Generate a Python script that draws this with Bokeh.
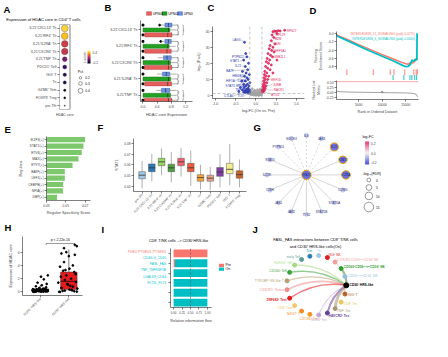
import math
from bokeh.plotting import figure
from bokeh.layouts import row, column
from bokeh.models import (Range1d, FactorRange, ColorBar, LinearColorMapper, FixedTicker,
                          ColumnDataSource, Span, PrintfTickFormatter)
from bokeh.core.properties import value
from bokeh.palettes import Inferno256
from bokeh.embed import file_html
from bokeh.resources import INLINE

FONT = "Liberation Sans"

# ======================= DATA =======================
# A: dot plot
a_cells = ["IL21⁺CXCL13⁺ Th", "IL21⁺IRF4⁺ Th", "IL21⁺IL2RA⁺ Th", "IL21⁺CXCR6⁺ Th",
           "IL21⁺TNF⁺ Th", "PDCD1⁺ Teff", "ISG⁺ T", "Tn", "GZMK⁺ Tem", "FOXP3⁺ Treg", "pre-Tfh"]
a_zscore = [0.42, 0.39, 0.16, 0.14, 0.0, -0.11, -0.14, -0.16, -0.23, -0.235, -0.25]
a_pct = [0.58, 0.57, 0.56, 0.55, 0.40, 0.34, 0.30, 0.28, 0.20, 0.18, 0.10]
a_pct_legend = [0.2, 0.3, 0.4]
a_z_ticks = [-0.2, 0.0, 0.2, 0.4]
a_title = "Expression of HDAC core in CD4⁺ T cells"

# B: box plots per patient
b_groups = ["IL21⁺CXCL13⁺ Th", "IL21⁺IRF4⁺ Th", "IL21⁺CXCR6⁺ Th", "IL21⁺IL2RA⁺ Th", "IL21⁺TNF⁺ Th"]
b_patients = ["UPN01", "UPN02", "UPN03"]
b_q1 = {"UPN01": [0.05, 0.05, 0.04, 0.05, 0.04], "UPN02": [0.0, 0.0, 0.0, 0.0, 0.0],
        "UPN03": [0.62, 0.62, 0.58, 0.55, 0.52]}
b_med = {"UPN01": [0.70, 0.68, 0.72, 0.70, 0.72], "UPN02": [0.72, 0.70, 0.72, 0.72, 0.70],
         "UPN03": [0.72, 0.72, 0.68, 0.66, 0.64]}
b_q3 = {"UPN01": [0.82, 0.80, 0.82, 0.81, 0.82], "UPN02": [0.76, 0.74, 0.78, 0.78, 0.78],
        "UPN03": [0.82, 0.80, 0.80, 0.76, 0.76]}
b_lo = {"UPN01": [0.05, 0.05, 0.04, 0.05, 0.04], "UPN02": [0.0, 0.0, 0.0, 0.0, 0.0],
        "UPN03": [0.50, 0.52, 0.42, 0.40, 0.38]}
b_hi = {"UPN01": [1.02, 0.98, 1.0, 1.0, 1.0], "UPN02": [0.95, 0.92, 0.96, 0.98, 0.95],
        "UPN03": [1.0, 0.98, 1.0, 0.95, 0.95]}
b_out_upn01 = [0.0, 0.0, 0.0, 0.0, 0.0]
b_out_upn03 = [0.0, 0.0, 0.0, 0.0, 0.0]
b_out_extra_group = [0, 1]
b_out_extra_val = [0.47, 0.50]
b_sig = ["***", "***", "***"]
b_xticks = [0.0, 0.4, 0.8, 1.2]

# C: volcano
c_gray_x = [-0.12, -0.08, -0.05, -0.02, 0.0, 0.03, 0.06, 0.09, 0.12, -0.10, -0.06, 0.01, 0.05, 0.10,
            0.13, -0.13, -0.03, 0.04, 0.11, -0.09, 0.07, -0.14, 0.14, -0.01, 0.08, -0.11, 0.02, -0.07,
            0.12, -0.04]
c_gray_y = [0.5, 1.0, 0.3, 0.8, 0.2, 0.6, 1.2, 0.4, 0.9, 2.0, 2.5, 1.8, 2.2, 1.6, 2.8, 3.0, 3.2, 3.6,
            4.0, 4.2, 0.1, 1.2, 0.3, 2.6, 3.0, 1.5, 0.4, 0.6, 2.0, 1.4]
c_dn_x = [-0.28, -0.25, -0.22, -0.30, -0.18, -0.26, -0.20, -0.33, -0.24, -0.16, -0.28, -0.22, -0.19,
          -0.35, -0.26, -0.15, -0.30, -0.21, -0.17, -0.25, -0.38, -0.29, -0.19, -0.23, -0.16, -0.33,
          -0.27, -0.20, -0.17, -0.24, -0.30, -0.42, -0.21, -0.16, -0.27, -0.19]
c_dn_y = [33, 26, 24, 22, 20, 18, 16, 15, 14, 13, 12, 11, 10, 9, 9, 8, 7, 7, 6, 6, 5, 5, 4.5, 4, 3.5,
          3.5, 3, 3, 2.5, 2.5, 2.2, 2.5, 2, 1.8, 1.8, 1.5]
c_up_x = [0.71, 0.60, 0.55, 0.50, 0.46, 0.42, 0.52, 0.40, 0.44, 0.38, 0.47, 0.35, 0.42, 0.33, 0.39,
          0.45, 0.30, 0.36, 0.41, 0.28, 0.34, 0.52, 0.26, 0.31, 0.38, 0.24, 0.29, 0.35, 0.22, 0.27,
          0.42, 0.21, 0.25, 0.32, 0.20, 0.23, 0.29, 0.19, 0.22, 0.27, 0.18, 0.21, 0.25, 0.17, 0.20,
          0.23, 0.18, 0.16, 0.21, 0.17, 0.19, 0.16]
c_up_y = [40.5, 40, 40.2, 39.8, 40, 39.5, 38.5, 37.5, 36, 34, 32, 31, 30, 29, 28, 27, 26, 25, 24, 23,
          22, 22, 21, 20, 19, 18, 17, 16, 15, 14, 14, 13, 12, 12, 11, 10, 10, 9, 8, 8, 7, 6.5, 6, 5.5,
          5, 4.5, 4, 3.5, 3.5, 3, 2.5, 2.2]
c_dn_genes = ["LAG3", "PTPN22", "STAT1", "IL21", "BATF", "HMGB2", "HIF1A", "IL2RA", "STAT3", "NR4A2",
              "TNFRSF4", "CTLA4", "TOX"]
c_dn_gx = [-0.28, -0.22, -0.30, -0.26, -0.18, -0.24, -0.28, -0.19, -0.26, -0.17, -0.23, -0.20, -0.16]
c_dn_gy = [33, 24, 22, 18, 16, 14, 12, 10, 9, 6, 4, 3, 1.8]
c_up_genes = ["RPS27", "RPL29", "B2M", "JUN", "EEF1A1", "GNB2L1", "EEF1D", "JUNB", "RACK1", "BTG1"]
c_up_gx = [0.71, 0.46, 0.44, 0.40, 0.42, 0.36, 0.29, 0.25, 0.21, 0.17]
c_up_gy = [40.5, 40, 36, 34, 30, 25, 10, 6, 3.5, 3]

# D: GSEA
d_rank_21 = [0, 500, 2500, 5000, 7500, 10000, 12500, 14000, 15000, 15500, 16000, 16500, 17000, 17300, 17500]
d_es_21 = [0.0, -0.05, -0.14, -0.27, -0.39, -0.51, -0.62, -0.69, -0.73, -0.74, -0.70, -0.71, -0.66, -0.60, -0.62]
d_rank_6 = [0, 500, 2500, 5000, 7500, 10000, 12500, 14000, 15000, 15500, 16000, 16300, 16700, 17000, 17350, 17400]
d_es_6 = [0.0, -0.07, -0.17, -0.30, -0.43, -0.55, -0.67, -0.75, -0.80, -0.79, -0.74, -0.64, -0.67, -0.62, -0.64, 0.0]
d_hits_21 = [2500, 8100, 11700, 12500, 14800, 16700, 17200, 17450]
d_hits_6 = [12300, 14600, 15900, 16300, 16900, 17300]
d_metric_rank = [0, 1000, 3000, 6000, 9000, 12000, 15000, 16500, 17200, 17500]
d_metric = [0.08, 0.04, 0.02, 0.01, 0.0, -0.01, -0.02, -0.04, -0.08, -0.2]
d_sets = ["INTERLEUKIN_21_SIGNALING", "INTERLEUKIN_6_SIGNALING"]
d_padj = ["0.0275", "0.0000"]

# E: regulon specificity
e_regulons = ["IKZF3(+)", "STAT1(+)", "ETV6(+)", "MAX(+)", "ETV7(+)", "BATF(+)", "LEF1(+)",
              "CEBPB(+)", "NFIA(+)", "DBP(+)"]
e_rss = [0.0700, 0.0683, 0.0665, 0.0632, 0.0570, 0.0490, 0.0490, 0.0472, 0.0470, 0.0410]

# F: STAT1 box plots
f_cells = ["pre-Tfh", "IL21⁺CXCL13⁺ Th", "IL21⁺IRF4⁺ Th", "IL21⁺CXCR6⁺ Th", "IL21⁺IL2RA⁺ Th",
           "IL21⁺TNF⁺ Th", "Tn", "GZMK⁺ Tem", "PDCD1⁺ Teff", "ISG⁺ T", "FOXP3⁺ Treg"]
f_q1 = [0.0469, 0.0536, 0.0592, 0.0536, 0.0592, 0.0536, 0.0447, 0.0447, 0.0492, 0.0517, 0.0475]
f_med = [0.0503, 0.0572, 0.0628, 0.0572, 0.0628, 0.0572, 0.0480, 0.0475, 0.0533, 0.0558, 0.0508]
f_q3 = [0.0536, 0.0608, 0.0661, 0.0606, 0.0661, 0.0614, 0.0508, 0.0503, 0.0575, 0.0614, 0.0544]
f_lo = [0.0378, 0.0447, 0.0503, 0.0436, 0.0490, 0.0403, 0.0369, 0.0364, 0.0390, 0.0408, 0.0390]
f_hi = [0.0636, 0.0703, 0.0753, 0.0720, 0.0758, 0.0736, 0.0600, 0.0580, 0.0700, 0.0794, 0.0650]

# G: network
g_hub = "STAT1"
g_hub_lfc = -0.2
g_hub_fdr = 14
g_nodes = ["IL6", "JAK3", "IL21", "STAT3", "IL2RA", "IL2RG", "STAT5A", "STAT5B", "TYK2", "JAK2",
           "JAK1", "CISH", "IL21R", "STAT4", "PTPN11", "SOCS3"]
g_lfc = [-0.04, -0.05, -0.19, -0.2, -0.2, -0.06, -0.03, -0.02, -0.03, -0.05, -0.04, -0.05, -0.05,
         -0.05, -0.04, -0.06]
g_fdr = [1.0, 1.5, 11, 10, 12, 2, 1.0, 0.8, 0.8, 1.2, 1.0, 1.5, 1.5, 1.5, 1.0, 1.5]
g_dashed = [1, 1, 1, 0, 0, 0, 0, 0, 0, 0, 0, 0, 0, 0, 1, 1]
g_lfc_ticks = [-0.2, -0.1, 0.0, 0.1, 0.2]
g_fdr_legend = [0, 5, 10, 15]

# H: HDAC core in HRS-like cells
h_groups = ["CD30⁻ HRS-like", "CD30⁺ HRS-like"]
h_q1 = [0.0, 0.35]
h_med = [0.12, 1.6]
h_q3 = [0.45, 3.0]
h_lo = [0.0, 0.0]
h_hi = [1.1, 6.4]
h_neg_dx = [-0.25, 0.10, -0.15, 0.22, -0.05, 0.18, -0.20, 0.05, 0.25, -0.10, 0.12, -0.22, 0.0, 0.20,
            -0.12, 0.08, -0.26, 0.15, 0.03, -0.18, 0.24, -0.08, 0.14, -0.24, 0.06, -0.14, 0.10, -0.04,
            0.20, -0.16, 0.05, 0.22, -0.10, 0.12, 0.02, -0.20, 0.17, -0.02, 0.26, -0.28]
h_neg_y = [0.02, 0.05, 0.08, 0.10, 0.12, 0.15, 0.18, 0.20, 0.22, 0.25, 0.28, 0.30, 0.33, 0.35, 0.38,
           0.40, 0.42, 0.45, 0.03, 0.07, 0.11, 0.16, 0.21, 0.26, 0.31, 0.36, 0.50, 0.60, 0.70, 0.85,
           1.0, 1.2, 1.4, 1.9, 2.3, 0.04, 0.09, 0.14, 2.5, 0.24]
h_pos_dx = [0.21, 0.28, -0.17, -0.09, 0.21, -0.26, 0.0, -0.17, 0.14, -0.31, 0.02, -0.20, 0.19, -0.09,
            -0.28, 0.08, -0.14, 0.25, -0.37, -0.03, 0.14, -0.26, 0.02, -0.14, 0.19, -0.31, 0.28, 0.09,
            -0.22, 0.30, 0.05, -0.05, 0.24, -0.12, 0.12, -0.34]
h_pos_y = [7.1, 6.9, 6.6, 6.0, 5.6, 5.8, 5.4, 4.5, 4.0, 3.8, 3.5, 3.2, 3.0, 2.5, 2.3, 2.0, 1.8, 1.5,
           1.4, 1.1, 0.8, 0.6, 0.35, 0.2, 0.1, 0.0, 0.05, 0.3, 0.15, 0.5, 0.9, 1.2, 2.7, 3.3, 0.25, 0.02]
h_p_label = "p < 2.22e-16"

# I: relative information flow
i_pairs = ["PGE2-PTGES3_PTGER4", "CD40LG_CD40", "FASL_FAS", "TNF_TNFRSF1B", "LGALS9_CD44", "FLT3L_FLT3"]
i_pre = [1.0, 0.04, 0.0, 0.0, 0.0, 0.0]
i_on = [0.0, 0.96, 1.0, 1.0, 1.0, 1.0]
i_enriched = ["Pre", "On", "On", "On", "On", "On"]
i_groups = ["Pre", "On"]
i_xticks = [0.0, 0.25, 0.5, 0.75, 1.0]
i_title = "CD8⁺ T/NK cells --> CD30⁺HRS-like"

# J: circle plot FASL_FAS
j_nodes = ["CD30⁺ HRS-like", "CD56ᵇʳⁱᵍʰᵗCD16⁻ NK", "CD160⁺CD56ᵇʳⁱᵍʰᵗCD16⁺ NK", "CX3CR1⁺CD56ᵈⁱᵐCD16⁺ NK",
           "ISG⁺ NK", "Tn", "Tcm", "early Teff", "KLRG1⁺ Teff", "CD160⁺ Teff", "TYROBP⁺ NK-like T",
           "CX3CR1⁺ Temra", "ZNF683⁺ Tem", "CD8⁺ Tem", "NKG7⁺ T", "CXCR6⁺ Trm", "SOX4⁺ Tex",
           "HAVCR2⁺ Tex", "TNF⁺ Tex", "CD8⁺ Tm", "ISG⁺ T"]
j_colors = ["#000000", "#8FBFDD", "#2E9E2E", "#F49A9A", "#E31A1C", "#9CC8E2", "#2C7FB8", "#5E9C97",
            "#A6D87E", "#3AA23A", "#B99B72", "#F08C8C", "#E31A1C", "#F9C56E", "#F58B26", "#F7941D",
            "#C2A5D4", "#6A3D9A", "#A89476", "#E7C75A", "#B4612A"]
j_bold = [1, 0, 1, 0, 0, 0, 0, 0, 0, 0, 0, 0, 1, 0, 0, 0, 0, 1, 0, 0, 0]
j_edge_src = [1, 2, 3, 8, 9, 10, 11, 12, 16, 17, 18, 20]
j_edge_w = [0.8, 2.2, 1.0, 1.5, 1.5, 1.2, 1.8, 1.6, 1.2, 2.0, 3.0, 0.8]
j_title = ["FASL_FAS interactions between CD8⁺ T/NK cells", "and CD30⁺ HRS-like cells(On)"]

# ======================= HELPERS =======================
def mkfig(w, h, xr, yr, bl, br, bt, bb, xaxis=True, yaxis=True):
    p = figure(width=w, height=h, x_range=xr, y_range=yr, output_backend="svg",
               toolbar_location=None,
               x_axis_location="below" if xaxis else None,
               y_axis_location="left" if yaxis else None,
               min_border_left=bl, min_border_right=br, min_border_top=bt, min_border_bottom=bb)
    p.outline_line_color = None
    p.grid.visible = False
    p.background_fill_color = "white"
    p.border_fill_color = "white"
    return p


def hdr(w, h):
    # full-frame strip, y measured downward from its top edge
    return mkfig(w, h, Range1d(0, w), Range1d(h, 0), 0, 0, 0, 0, xaxis=False, yaxis=False)


def txt(p, x, y, text, size="4px", color="black", align="left", baseline="middle", bold=False,
        angle=0.0):
    p.text(x=[x], y=[y], text=[text], text_font=value(FONT), text_font_size=size,
           text_color=color, text_align=align, text_baseline=baseline,
           text_font_style="bold" if bold else "normal", angle=angle)


def letter(p, x, y, t):
    txt(p, x, y, t, size="9.5px", bold=True)


def style_axes(p, size="3.5px", lsize="4px"):
    for ax in list(p.xaxis) + list(p.yaxis):
        ax.major_label_text_font = FONT
        ax.major_label_text_font_size = size
        ax.axis_label_text_font = FONT
        ax.axis_label_text_font_size = lsize
        ax.axis_label_text_font_style = "normal"
        ax.axis_line_width = 0.5
        ax.major_tick_line_width = 0.5
        ax.major_tick_out = 2
        ax.major_tick_in = 0
        ax.minor_tick_line_color = None
        ax.major_label_standoff = 1
        ax.axis_label_standoff = 2


def interp_palette(stops, n):
    out = []
    segs = len(stops) - 1
    for i in range(n):
        t = i / (n - 1) * segs
        k = min(int(t), segs - 1)
        f = t - k
        c0 = [int(stops[k][j:j + 2], 16) for j in (1, 3, 5)]
        c1 = [int(stops[k + 1][j:j + 2], 16) for j in (1, 3, 5)]
        c = [round(c0[j] + (c1[j] - c0[j]) * f) for j in range(3)]
        out.append("#%02x%02x%02x" % tuple(c))
    return out


SALMON, TEAL = "#F8766D", "#00BFC4"

# ======================= PANEL A =======================
hA = hdr(102, 24)
letter(hA, 3, 8.5, "A")
txt(hA, 43, 19, a_title, size="4.1px", align="center")
pA = mkfig(102, 95, Range1d(0, 3.81), FactorRange(factors=a_cells[::-1]), 59, 3, 0, 7)
a_mapper = LinearColorMapper(palette=Inferno256, low=-0.25, high=0.5)
pA.quad(left=0, right=1, bottom=0, top=len(a_cells), fill_color=None, line_color="black", line_width=0.5)
srcA = ColumnDataSource(dict(cell=a_cells, z=a_zscore, s=[12.0 * v for v in a_pct]))
pA.scatter(x=0.5, y="cell", size="s", source=srcA,
           fill_color={"field": "z", "transform": a_mapper}, line_color="#3a3a3a", line_width=0.3)
style_axes(pA, size="3.5px")
pA.yaxis.axis_line_color = None
pA.xaxis.axis_line_color = None
pA.xaxis.major_tick_line_color = None
pA.xaxis.ticker = FixedTicker(ticks=[0.5])
pA.xaxis.major_label_overrides = {0.5: "HDAC core"}
cbA = ColorBar(color_mapper=a_mapper, ticker=FixedTicker(ticks=a_z_ticks),
               formatter=PrintfTickFormatter(format="%.1f"), width=3, height=13,
               location=(20, 46), padding=0, margin=0, title="z-score",
               title_text_font=FONT, title_text_font_size="3.5px", title_text_font_style="normal",
               title_standoff=2, major_label_text_font=FONT, major_label_text_font_size="3.2px",
               label_standoff=2, major_tick_line_color=None, bar_line_color=None,
               background_fill_color=None, border_line_color=None)
pA.add_layout(cbA)
a_leg_y = [4.1, 3.36, 2.42]
pA.text(x=1.75, y=4.85, text=["Pct"], text_font=value(FONT), text_font_size="3.6px",
        text_baseline="middle")
pA.scatter(x=2.0, y=a_leg_y, size=[12.0 * v for v in a_pct_legend], fill_color=None,
           line_color="black", line_width=0.4)
pA.text(x=2.45, y=a_leg_y, text=["%.1f" % v for v in a_pct_legend], text_font=value(FONT),
        text_font_size="3.2px", text_baseline="middle")

# ======================= PANEL B =======================
b_fill = {"UPN01": "#E8605E", "UPN02": "#22A022", "UPN03": "#6A90E0"}
b_edge = {"UPN01": "#9E3433", "UPN02": "#176B17", "UPN03": "#3B5EA8"}
hB = hdr(91, 20)
letter(hB, 2, 7, "B")
b_leg_x = [44, 59.5, 75]
hB.rect(x=[x + 2.5 for x in b_leg_x], y=13, width=5, height=3.6,
        fill_color=[b_fill[p] for p in b_patients], line_color=[b_edge[p] for p in b_patients],
        line_width=0.4)
hB.text(x=[x + 6.2 for x in b_leg_x], y=13, text=b_patients, text_font=value(FONT),
        text_font_size="3.3px", text_baseline="middle")
pB = mkfig(91, 99, Range1d(-0.07, 1.40), Range1d(-0.38, 4.58), 38, 1, 0, 14)
b_off = {"UPN01": -0.3, "UPN02": 0.0, "UPN03": 0.3}
ng = len(b_groups)
for pt in b_patients:
    ys = [(ng - 1 - g) + b_off[pt] for g in range(ng)]
    pB.hbar(y=ys, left=b_q1[pt], right=b_q3[pt], height=0.25, fill_color=b_fill[pt],
            line_color=b_edge[pt], line_width=0.4)
    pB.segment(x0=b_q3[pt], y0=ys, x1=b_hi[pt], y1=ys, line_color="#333333", line_width=0.4)
    pB.segment(x0=b_lo[pt], y0=ys, x1=b_q1[pt], y1=ys, line_color="#333333", line_width=0.4)
    pB.segment(x0=b_med[pt], y0=[y - 0.125 for y in ys], x1=b_med[pt], y1=[y + 0.125 for y in ys],
               line_color="#222222", line_width=0.6)
ys1 = [(ng - 1 - g) + b_off["UPN01"] for g in range(ng)]
ys3 = [(ng - 1 - g) + b_off["UPN03"] for g in range(ng)]
pB.scatter(x=b_out_upn01, y=ys1, marker="square", size=1.8, color="black")
pB.scatter(x=b_out_upn03, y=ys3, marker="square", size=1.8, color="black")
pB.scatter(x=b_out_extra_val, y=[(ng - 1 - g) + 0.3 for g in b_out_extra_group], size=1.8, color="black")
bx1, bx2 = 0.99, 1.14
sx0, sy0, sx1, sy1 = [], [], [], []
tx, ty, tt = [], [], []
for g in range(ng):
    yc = ng - 1 - g
    for (xa, ya, yb, k) in [(bx1, yc + 0.3, yc + 0.03, 0), (bx1, yc - 0.03, yc - 0.3, 1), (bx2, yc + 0.3, yc - 0.3, 2)]:
        sx0 += [xa, xa - 0.03, xa - 0.03]; sy0 += [ya, ya, yb]
        sx1 += [xa, xa, xa]; sy1 += [yb, ya, yb]
        tx.append(xa + 0.06); ty.append((ya + yb) / 2); tt.append(b_sig[k])
pB.segment(x0=sx0, y0=sy0, x1=sx1, y1=sy1, line_color="#333333", line_width=0.35)
pB.text(x=tx, y=ty, text=tt, angle=math.pi / 2, text_font=value(FONT), text_font_size="2.6px",
        text_align="center", text_baseline="middle")
style_axes(pB, size="3.5px", lsize="4px")
pB.xaxis.ticker = FixedTicker(ticks=b_xticks)
pB.xaxis.formatter = PrintfTickFormatter(format="%.1f")
pB.xaxis.axis_label = "HDAC core Expression"
pB.xaxis.axis_label_standoff = 1
pB.yaxis.ticker = FixedTicker(ticks=[float(ng - 1 - g) for g in range(ng)])
pB.yaxis.major_label_overrides = {float(ng - 1 - g): b_groups[g] for g in range(ng)}

# ======================= PANEL C =======================
hC = hdr(114, 26)
letter(hC, 14, 7, "C")
pC = mkfig(114, 93, Range1d(-1.07, 1.20), Range1d(-1.8, 42.8), 19, 3, 0, 21)
for loc in (-0.15, 0.15):
    pC.add_layout(Span(location=loc, dimension="height", line_color="#9E9E9E", line_dash="3 2", line_width=0.6))
pC.add_layout(Span(location=1.3, dimension="width", line_color="#9E9E9E", line_dash="3 2", line_width=0.6))
pC.scatter(x=c_gray_x, y=c_gray_y, size=2.0, color="#A3A3A3", alpha=0.9)
pC.scatter(x=c_dn_x, y=c_dn_y, size=2.0, color="#2B3BB5", alpha=0.85)
pC.scatter(x=c_up_x, y=c_up_y, size=2.0, color="#E0245A", alpha=0.85)
c_dn_lx = [-0.38, -0.30, -0.41, -0.36, -0.54, -0.31, -0.52, -0.24, -0.52, -0.24, -0.16, -0.55, -0.30]
c_dn_ly = [34.5, 23.8, 21.4, 18.5, 15.6, 12.1, 9.2, 9.2, 5.8, 5.8, 3.5, 0.0, 0.0]
c_up_lx = [0.76, 0.49, 0.47, 0.46, 0.46, 0.44, 0.38, 0.42, 0.44, 0.38]
c_up_ly = [40.0, 37.5, 35.5, 32.0, 27.9, 24.0, 10.1, 6.8, 3.5, 0.8]
pC.segment(x0=[x + 0.015 for x in c_dn_lx], y0=c_dn_ly, x1=c_dn_gx, y1=c_dn_gy, line_color="#555555", line_width=0.3)
pC.segment(x0=[x - 0.015 for x in c_up_lx], y0=c_up_ly, x1=c_up_gx, y1=c_up_gy, line_color="#555555", line_width=0.3)
pC.text(x=c_dn_lx, y=c_dn_ly, text=c_dn_genes, text_font=value(FONT), text_font_size="3.1px",
        text_color="#2B3BB5", text_align="right", text_baseline="middle")
pC.text(x=c_up_lx, y=c_up_ly, text=c_up_genes, text_font=value(FONT), text_font_size="3.1px",
        text_color="#E0245A", text_align="left", text_baseline="middle")
style_axes(pC, size="3.4px", lsize="3.8px")
pC.xaxis.ticker = FixedTicker(ticks=[-1.0, -0.5, 0.0, 0.5, 1.0])
pC.xaxis.formatter = PrintfTickFormatter(format="%.1f")
pC.yaxis.ticker = FixedTicker(ticks=[0, 10, 20, 30, 40])
pC.xaxis.axis_label = "log₂FC (On vs. Pre)"
pC.yaxis.axis_label = "-log₁₀(P.adj)"
pC.xaxis.axis_label_standoff = 1

# ======================= PANEL D =======================
hD = hdr(125, 31)
letter(hD, 2, 9.5, "D")
pD1 = mkfig(125, 49, Range1d(300, 17700), Range1d(-1.13, 0.043), 29, 14, 0, 0, xaxis=False)
pD1.segment(x0=d_hits_21, y0=-0.86, x1=d_hits_21, y1=-1.0, line_color=SALMON, line_width=0.9)
pD1.segment(x0=d_hits_6, y0=-1.0, x1=d_hits_6, y1=-1.13, line_color=TEAL, line_width=0.9)
pD1.line(x=d_rank_21, y=d_es_21, line_color=SALMON, line_width=1.5)
pD1.line(x=d_rank_6, y=d_es_6, line_color=TEAL, line_width=1.8)
pD1.text(x=17276, y=[0.0, -0.12], text=[d_sets[i] + "   (padj: " + d_padj[i] + ")" for i in range(2)],
         text_color=[SALMON, TEAL], text_font=value(FONT), text_font_size="3.1px",
         text_align="right", text_baseline="middle")
style_axes(pD1, size="3.3px", lsize="3.6px")
pD1.yaxis.ticker = FixedTicker(ticks=[0.0, -0.2, -0.4, -0.6, -0.8])
pD1.yaxis.formatter = PrintfTickFormatter(format="%.1f")
pD1.yaxis.bounds = (-0.86, 0.043)
pD1.yaxis.axis_label = "Running\nEnrichment Score"

pD2 = mkfig(125, 39, Range1d(300, 17700), Range1d(-0.324, 0.556), 29, 14, 0, 20)
pD2.add_layout(Span(location=0.5, dimension="width", line_color=SALMON, line_width=0.9, line_alpha=0.7))
pD2.line(x=d_metric_rank, y=d_metric, line_color="#8C8C8C", line_width=0.8)
pD2.scatter(x=[10000], y=[0.02], size=1.5, color="#8C8C8C")
style_axes(pD2, size="3.3px", lsize="3.6px")
pD2.yaxis.ticker = FixedTicker(ticks=[-0.25, 0.0, 0.25, 0.5])
pD2.yaxis.formatter = PrintfTickFormatter(format="%.2f")
pD2.yaxis.axis_label = "Ranked List\nMetric"
pD2.xaxis.ticker = FixedTicker(ticks=[5000, 10000, 15000])
pD2.xaxis.axis_label = "Rank in Ordered Dataset"
pD2.xaxis.axis_label_standoff = 1

# ======================= PANEL E =======================
hE = hdr(92, 17)
letter(hE, 4, 9.5, "E")
pE = mkfig(92, 81, Range1d(0.03, 0.0756), FactorRange(factors=e_regulons[::-1]), 46, 2, 0, 16)
pE.hbar(y=e_regulons, left=0, right=e_rss, height=0.82, fill_color="#7DC86C", line_color=None)
style_axes(pE, size="3.3px", lsize="3.8px")
pE.xaxis.ticker = FixedTicker(ticks=[0.03, 0.05, 0.07])
pE.xaxis.formatter = PrintfTickFormatter(format="%.2f")
pE.xaxis.axis_label = "Regulon Specificity Score"
pE.yaxis.axis_label = "Regulons"
pE.xaxis.axis_label_standoff = 1

# ======================= PANEL F =======================
hF = hdr(157, 19)
letter(hF, 5, 8, "F")
pF = mkfig(157, 79, Range1d(0.12, 11.72), Range1d(0.035, 0.0847), 41, 3, 0, 22)
f_fill = ["#9CC9E4", "#2A78B6", "#97D65F", "#4FA03E", "#F0636E", "#EE5A3C", "#F5A43A", "#EBA184",
          "#7D3FA3", "#F3EF8E", "#C9622B"]
fx = list(range(1, len(f_cells) + 1))
pF.segment(x0=fx, y0=f_lo, x1=fx, y1=f_hi, line_color="#7A7A7A", line_width=0.6)
pF.vbar(x=fx, bottom=f_q1, top=f_q3, width=0.68, fill_color=f_fill, line_color="#5A5A5A", line_width=0.5)
pF.segment(x0=[x - 0.34 for x in fx], y0=f_med, x1=[x + 0.34 for x in fx], y1=f_med,
           line_color="#333333", line_width=0.8)
style_axes(pF, size="3.2px", lsize="3.8px")
pF.xaxis.ticker = FixedTicker(ticks=fx)
pF.xaxis.major_label_overrides = {float(i + 1): c for i, c in enumerate(f_cells)}
pF.xaxis.major_label_orientation = math.pi / 4
pF.yaxis.ticker = FixedTicker(ticks=[0.04, 0.05, 0.06, 0.07, 0.08])
pF.yaxis.formatter = PrintfTickFormatter(format="%.2f")
pF.yaxis.axis_label = "STAT1"

# ======================= PANEL G =======================
G_W, G_H = 183, 98
pG = mkfig(G_W, G_H, Range1d(0, G_W), Range1d(G_H, 0), 0, 0, 0, 0, xaxis=False, yaxis=False)
g_pal = interp_palette(["#4450D8", "#F4F4F8", "#E63C6E"], 64)
g_mapper = LinearColorMapper(palette=g_pal, low=-0.25, high=0.25)
gcx, gcy, grad = 56.9, 55.4, 39.5
n_g = len(g_nodes)
gx = [gcx + grad * math.cos(math.radians(90 - 360.0 / n_g * k)) for k in range(n_g)]
gy = [gcy - grad * math.sin(math.radians(90 - 360.0 / n_g * k)) for k in range(n_g)]
sol = [k for k in range(n_g) if not g_dashed[k]]
das = [k for k in range(n_g) if g_dashed[k]]
pG.segment(x0=gcx, y0=gcy, x1=[gx[k] for k in sol], y1=[gy[k] for k in sol], line_color="#C4C4C4", line_width=0.7)
pG.segment(x0=gcx, y0=gcy, x1=[gx[k] for k in das], y1=[gy[k] for k in das], line_color="#C4C4C4",
           line_width=0.7, line_dash="2 2")
def gsize(f):
    return (4 + 0.4 * f) * 0.96
all_x = gx + [gcx]
all_y = gy + [gcy]
all_lfc = g_lfc + [g_hub_lfc]
all_fdr = g_fdr + [g_hub_fdr]
all_lab = g_nodes + [g_hub]
sig = [f > 5 for f in all_fdr]
srcG = ColumnDataSource(dict(x=all_x, y=all_y, lfc=all_lfc, s=[gsize(f) for f in all_fdr],
                             lc=["#F5A300" if s_ else "#8C96DA" for s_ in sig],
                             lw=[1.0 if s_ else 0.3 for s_ in sig], lab=all_lab))
pG.scatter(x="x", y="y", size="s", source=srcG, fill_color={"field": "lfc", "transform": g_mapper},
           line_color="lc", line_width="lw")
pG.text(x="x", y="y", text="lab", source=srcG, text_font=value(FONT), text_font_size="3.2px",
        text_color="#23286E", text_align="center", text_baseline="middle")
cbG = ColorBar(color_mapper=g_mapper, ticker=FixedTicker(ticks=g_lfc_ticks),
               formatter=PrintfTickFormatter(format="%.1f"), width=4, height=23,
               location=(115.6, 53), padding=0, margin=0, major_label_text_font=FONT,
               major_label_text_font_size="3.2px", label_standoff=2, major_tick_line_color=None,
               bar_line_color=None, background_fill_color=None, border_line_color=None)
pG.add_layout(cbG)
txt(pG, 113, 17.2, "log₂FC", size="3.6px")
txt(pG, 113, 54.4, "-log₁₀(FDR)", size="3.6px")
g_leg_yc = [60.5, 68, 76.4, 87.5]
pG.scatter(x=119.4, y=g_leg_yc, size=[gsize(f) for f in g_fdr_legend],
           fill_color=None, line_color="black", line_width=0.4)
pG.text(x=126.5, y=g_leg_yc, text=[str(v) for v in g_fdr_legend],
        text_font=value(FONT), text_font_size="3.2px", text_baseline="middle")
letter(pG, 4, 8, "G")

# ======================= PANEL H =======================
hH = hdr(96, 19)
letter(hH, 4, 9.5, "H")
pH = mkfig(96, 105, Range1d(0.37, 2.48), Range1d(-0.54, 8.36), 22, 14, 0, 46)
hx = [1, 2]
pH.segment(x0=hx, y0=h_q3, x1=hx, y1=h_hi, line_color="black", line_width=0.5)
pH.vbar(x=hx, bottom=h_q1, top=h_q3, width=0.58, fill_color=["#111111", "#E41A1C"],
        line_color=["#000000", "#3A3A3A"], line_width=0.5)
pH.segment(x0=[x - 0.29 for x in hx], y0=h_med, x1=[x + 0.29 for x in hx], y1=h_med,
           line_color="black", line_width=0.7)
pH.scatter(x=[1 + d for d in h_neg_dx], y=h_neg_y, size=1.8, color="black")
pH.scatter(x=[2 + d for d in h_pos_dx], y=h_pos_y, size=1.8, color="black")
pH.segment(x0=[1.2, 1.2, 2.2], y0=[7.3, 7.3, 7.3], x1=[2.2, 1.2, 2.2], y1=[7.3, 7.05, 7.05],
           line_color="black", line_width=0.4)
pH.text(x=[1.7], y=[7.85], text=[h_p_label], text_font=value(FONT), text_font_size="3.4px",
        text_align="center", text_baseline="middle")
style_axes(pH, size="3.3px", lsize="3.8px")
pH.xaxis.ticker = FixedTicker(ticks=hx)
pH.xaxis.major_label_overrides = {1.0: h_groups[0], 2.0: h_groups[1]}
pH.xaxis.major_label_orientation = math.pi / 4
pH.yaxis.ticker = FixedTicker(ticks=[0, 2, 4, 6])
pH.yaxis.axis_label = "Expression of HDAC core"

# ======================= PANEL I =======================
hI = hdr(140, 31)
letter(hI, 5, 11.5, "I")
txt(hI, 82, 23.5, i_title, size="3.8px", align="center")
I_MAIN_H, I_BB = 93, 34
iy = [float(len(i_pairs) - 1 - k) for k in range(len(i_pairs))]
i_ppu = (I_MAIN_H - I_BB) / 6.0
pIl = mkfig(71, I_MAIN_H, Range1d(0, 71), Range1d(5.5 - I_MAIN_H / i_ppu, 5.5), 0, 0, 0, 0,
            xaxis=False, yaxis=False)
pIl.text(x=69.5, y=iy, text=i_pairs, text_color=[SALMON if e == "Pre" else TEAL for e in i_enriched],
         text_font=value(FONT), text_font_size="3.3px", text_align="right", text_baseline="middle")
pI = mkfig(47, I_MAIN_H, Range1d(-0.092, 1.121), Range1d(-0.5, 5.5), 3, 3, 0, I_BB)
pI.hbar(y=iy, left=0, right=i_pre, height=0.8, fill_color=SALMON, line_color=None)
pI.hbar(y=iy, left=i_pre, right=[a + b for a, b in zip(i_pre, i_on)], height=0.8,
        fill_color=TEAL, line_color=None)
pI.add_layout(Span(location=0.5, dimension="height", line_color="#4D4D4D", line_dash="2 2", line_width=0.6))
style_axes(pI, size="3.0px", lsize="3.8px")
pI.xaxis.ticker = FixedTicker(ticks=i_xticks)
pI.xaxis.formatter = PrintfTickFormatter(format="%.2f")
pI.xaxis.axis_label = "Relative information flow"
pI.yaxis.ticker = FixedTicker(ticks=iy)
pI.yaxis.major_label_overrides = {y: "" for y in iy}
pI.yaxis.major_label_standoff = 0
pIr = mkfig(22, I_MAIN_H, Range1d(0, 22), Range1d(I_MAIN_H, 0), 0, 0, 0, 0, xaxis=False, yaxis=False)
i_leg_y = [26.5, 32.5]
pIr.rect(x=7, y=i_leg_y, width=5, height=5, fill_color=[SALMON, TEAL], line_color=None)
pIr.text(x=11, y=i_leg_y, text=i_groups, text_font=value(FONT), text_font_size="3.5px",
         text_baseline="middle")

# ======================= PANEL J =======================
J_W, J_H = 196, 124
pJ = mkfig(J_W, J_H, Range1d(0, J_W), Range1d(J_H, 0), 0, 0, 0, 0, xaxis=False, yaxis=False)
jcx, jcy, jr = 80.0, 67.8, 29.8
n_j = len(j_nodes)
jang = [2 * math.pi * k / n_j for k in range(n_j)]
jx = [jcx + jr * math.cos(a) for a in jang]
jy = [jcy - jr * math.sin(a) for a in jang]
bx0, by0, bx1_, by1_, bcx, bcy = [], [], [], [], [], []
for s in j_edge_src:
    x0, y0, x1, y1 = jx[s], jy[s], jx[0], jy[0]
    mx, my = (x0 + x1) / 2, (y0 + y1) / 2
    dx, dy = x1 - x0, y1 - y0
    bx0.append(x0); by0.append(y0); bx1_.append(x1); by1_.append(y1)
    bcx.append(mx + 0.2 * dy); bcy.append(my - 0.2 * dx)
pJ.quadratic(x0=bx0, y0=by0, x1=bx1_, y1=by1_, cx=bcx, cy=bcy,
             line_color=[j_colors[s] for s in j_edge_src], line_width=j_edge_w, line_alpha=0.55)
pJ.scatter(x=jx, y=jy, size=[5 if k == 0 else 4 for k in range(n_j)], color=j_colors)
lx, ly, la, lb = [], [], [], []
for k, a in enumerate(jang):
    c, s_ = math.cos(a), math.sin(a)
    lx.append(jx[k] + 3.2 * c); ly.append(jy[k] - 3.2 * s_)
    if c > 0.35:
        la.append("left"); lb.append("middle")
    elif c < -0.35:
        la.append("right"); lb.append("middle")
    else:
        la.append("center"); lb.append("bottom" if s_ > 0 else "top")
srcJ = ColumnDataSource(dict(x=lx, y=ly, t=j_nodes, c=j_colors, a=la, b=lb,
                             st=["bold" if b else "normal" for b in j_bold]))
pJ.text(x="x", y="y", text="t", source=srcJ, text_color="c", text_align="a", text_baseline="b",
        text_font_style="st", text_font=value(FONT), text_font_size="3.3px")
txt(pJ, 79, 22, j_title[0], size="3.9px", align="center")
txt(pJ, 79, 28.6, j_title[1], size="3.9px", align="center")
letter(pJ, 16, 11.5, "J")

# ======================= LAYOUT =======================
def panel(head, body):
    return column(row(head), row(body))

r1 = row(panel(hA, pA), panel(hB, pB), panel(hC, pC), column(row(hD), row(column(pD1, pD2))))
r2 = row(panel(hE, pE), panel(hF, pF), pG)
r3 = row(panel(hH, pH), column(row(hI), row(pIl, pI, pIr)), pJ)
layout = column(r1, r2, r3)
open("out.html", "w").write(file_html(layout, INLINE, "Figure"))
